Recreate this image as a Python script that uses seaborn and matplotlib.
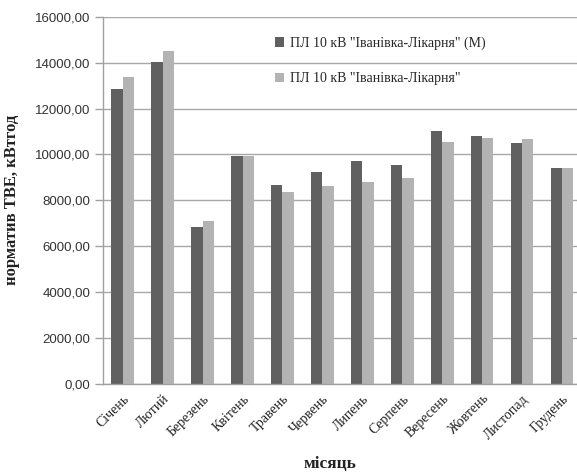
import matplotlib
matplotlib.use("Agg")
import matplotlib.pyplot as plt
from matplotlib.ticker import FuncFormatter, FixedLocator
from matplotlib.patches import Patch
import seaborn as sns
import pandas as pd

months = ["Січень", "Лютий", "Березень", "Квітень", "Травень", "Червень",
          "Липень", "Серпень", "Вересень", "Жовтень", "Листопад", "Грудень"]
series_names = ['ПЛ 10 кВ "Іванівка-Лікарня" (М)', 'ПЛ 10 кВ "Іванівка-Лікарня"']
values_m = [12840, 14040, 6820, 9950, 8680, 9230, 9710, 9540, 11010, 10800, 10480, 9420]
values_base = [13380, 14500, 7110, 9950, 8360, 8640, 8780, 8960, 10550, 10730, 10680, 9420]
colors = ["#606060", "#b3b3b3"]

df = pd.DataFrame({
    "month": months * 2,
    "value": values_m + values_base,
    "series": [series_names[0]] * len(months) + [series_names[1]] * len(months),
})

sns.set_theme(style="white")
plt.rcParams["font.family"] = ["Liberation Serif", "DejaVu Serif"]

fig = plt.figure(figsize=(5.77, 4.73), dpi=100)
ax = fig.add_axes([0.178, 0.1882, 0.8307, 0.7765])

sns.barplot(data=df, x="month", y="value", hue="series", palette=colors,
            width=0.565, saturation=1, ax=ax, legend=False, linewidth=0)

ax.set_xlim(-0.5, 11.5)
ax.set_ylim(0, 16000)
ax.set_yticks(range(0, 16001, 2000))
ax.yaxis.set_major_formatter(FuncFormatter(lambda v, p: f"{v:.2f}".replace(".", ",")))
ax.grid(axis="y", color="#a8a8a8", linewidth=1)
ax.set_axisbelow(True)

for s in ["top", "right"]:
    ax.spines[s].set_visible(False)
for s in ["left", "bottom"]:
    ax.spines[s].set_color("#a0a0a0")
    ax.spines[s].set_linewidth(1)

# tick marks sit on category boundaries, labels stay centred
ax.tick_params(axis="x", which="major", length=0, pad=6)
ax.xaxis.set_minor_locator(FixedLocator([i - 0.5 for i in range(13)]))
ax.tick_params(axis="x", which="minor", length=5, color="#a0a0a0", width=1, direction="out")
ax.tick_params(axis="y", length=6, color="#a0a0a0", width=1, direction="out", left=True, pad=3)

for lab in ax.get_yticklabels():
    lab.set_fontfamily(["Liberation Sans", "DejaVu Sans"])
    lab.set_fontsize(9.5)
    lab.set_color("#333333")
ax.set_xticks(range(len(months)))
ax.set_xticklabels(months, rotation=45, ha="right", rotation_mode="anchor",
                   fontsize=10, color="#222222")

ax.set_xlabel("місяць", fontsize=12.5, fontweight="bold", color="#222222")
ax.xaxis.set_label_coords(0.474, -0.195)
ax.set_ylabel("норматив ТВЕ, кВтгод", fontsize=12, fontweight="bold", color="#222222")
ax.yaxis.set_label_coords(-0.172, 0.5)

handles = [Patch(facecolor=c, edgecolor="none") for c in colors]
fig.legend(handles, series_names, loc="upper left",
           bbox_to_anchor=(269 / 577, 1 - 31 / 473), frameon=False,
           fontsize=10, handlelength=0.7, handleheight=0.7, handletextpad=0.4,
           labelspacing=1.6, borderaxespad=0)

fig.savefig("out.png", dpi=100)
